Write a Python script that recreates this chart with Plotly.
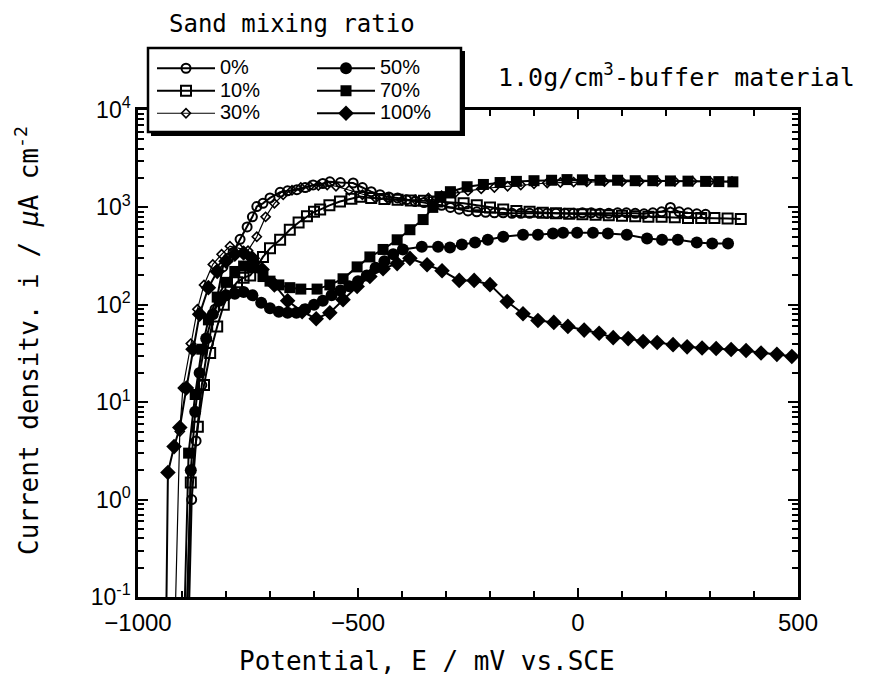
import plotly.graph_objects as go

# ---------------- data ----------------
E_0 = [-885, -878, -868, -855, -840, -825, -807, -795, -784, -768, -752, -740, -730, -716, -700, -677,
       -660, -639, -620, -602, -580, -564, -540, -511, -490, -470, -450, -430, -410, -390, -370, -350,
       -330, -310, -290, -270, -250, -230, -210, -190, -170, -150, -130, -110, -90, -70, -50, -30, -10,
       10, 30, 50, 70, 90, 110, 130, 150, 170, 190, 210, 230, 250, 270, 290]
I_0 = [0.05, 1.0, 4, 15, 40, 90, 245, 300, 345, 470, 630, 800, 1020, 1100, 1250, 1430,
       1480, 1520, 1600, 1700, 1760, 1830, 1800, 1780, 1600, 1450, 1350, 1280, 1250, 1200, 1150, 1120,
       1080, 1050, 1000, 960, 920, 900, 890, 880, 880, 870, 870, 870, 880, 870, 870, 870, 870,
       880, 880, 870, 870, 880, 880, 870, 860, 880, 900, 1000, 900, 880, 860, 850]

E_10 = [-890, -880, -864, -850, -836, -820, -805, -790, -775, -760, -745, -730, -716, -700, -677, -655,
        -635, -616, -600, -586, -565, -541, -515, -495, -470, -440, -410, -380, -350, -320, -290, -260,
        -230, -200, -170, -140, -110, -80, -50, -20, 10, 40, 70, 100, 130, 160, 190, 220, 250, 280, 310,
        340, 370]
I_10 = [0.05, 1.5, 5.6, 15, 32, 60, 100, 140, 170, 190, 200, 245, 310, 380, 465, 590,
        700, 810, 900, 950, 1050, 1150, 1230, 1290, 1250, 1220, 1200, 1180, 1170, 1150, 1120, 1100,
        1050, 1000, 950, 920, 900, 880, 870, 860, 850, 840, 830, 820, 810, 800, 800, 790, 780, 780, 780,
        770, 760]

E_30 = [-916, -905, -898, -880, -865, -850, -830, -810, -791, -770, -750, -730, -710, -690, -670, -650,
        -630, -610, -590, -570, -550, -520, -490, -460, -430, -400, -370, -340, -310, -280, -250, -220,
        -190, -160, -130, -100, -70, -40, -10, 20, 60, 100, 140, 180, 220, 260, 300, 350]
I_30 = [0.05, 5, 14, 40, 90, 160, 260, 330, 400, 380, 360, 500, 800, 1100, 1350, 1500,
        1600, 1650, 1680, 1700, 1650, 1500, 1350, 1250, 1200, 1180, 1200, 1250, 1320, 1400, 1480, 1550,
        1600, 1650, 1700, 1750, 1780, 1800, 1820, 1830, 1840, 1840, 1850, 1850, 1850, 1860, 1850, 1850]

E_50 = [-889, -880, -870, -860, -845, -830, -815, -800, -780, -760, -740, -720, -700, -680, -660, -640,
        -620, -600, -580, -560, -540, -520, -500, -480, -460, -440, -420, -398, -355, -318, -291, -264,
        -234, -205, -170, -125, -91, -57, -34, -2, 34, 68, 111, 157, 191, 227, 270, 305, 341]
I_50 = [0.05, 2, 8, 20, 45, 80, 110, 125, 130, 135, 125, 105, 92, 85, 83, 83,
        90, 100, 110, 125, 140, 155, 175, 200, 240, 280, 330, 370, 395, 395, 388, 415,
        436, 466, 500, 525, 525, 540, 550, 550, 550, 540, 525, 480, 466, 466, 436, 426, 426]

E_70 = [-895, -885, -870, -855, -840, -820, -800, -780, -760, -740, -716, -700, -680, -655, -630, -593,
        -564, -534, -502, -473, -443, -411, -382, -352, -330, -314, -290, -252, -215, -177, -140, -100,
        -60, -25, 10, 50, 90, 130, 170, 210, 250, 290, 320, 352]
I_70 = [0.05, 3, 12, 35, 70, 120, 170, 220, 250, 240, 195, 175, 160, 150, 145, 145,
        160, 185, 245, 310, 370, 465, 590, 750, 1000, 1290, 1450, 1630, 1720, 1800, 1850, 1880,
        1900, 1930, 1920, 1900, 1900, 1880, 1880, 1870, 1860, 1850, 1840, 1830]

E_100 = [-936, -932, -918, -905, -890, -875, -860, -840, -820, -800, -780, -760, -740, -718, -690, -660,
         -627, -595, -564, -534, -502, -473, -443, -411, -382, -343, -309, -270, -236, -200, -161, -125,
         -91, -55, -23, 14, 48, 80, 114, 148, 180, 216, 248, 282, 314, 348, 382, 416, 452, 486]
I_100 = [0.05, 1.9, 3.5, 5.5, 14, 35, 80, 150, 220, 280, 330, 340, 300, 230, 160, 110,
         85, 72, 83, 113, 154, 195, 235, 265, 300, 258, 224, 178, 178, 161, 108, 81,
         69, 66, 60, 55, 51, 46, 45, 42, 41, 39, 37, 36, 35.6, 34.7, 34, 32, 31, 29.5]

labels = ["0%", "10%", "30%", "50%", "70%", "100%"]
y_tick_vals = [0.1, 1, 10, 100, 1000, 10000]
y_tick_text = ["10<sup>-1</sup>", "10<sup>0</sup>", "10<sup>1</sup>", "10<sup>2</sup>",
               "10<sup>3</sup>", "10<sup>4</sup>"]

# ---------------- layout helpers ----------------
W, H = 873, 686
L, R, T, B = 138, 798, 110, 597


def px(x):
    return (x - L) / (R - L)


def py(y):
    return (B - y) / (B - T)


styles = {
    "0%": dict(symbol="circle-open", size=9, lw=2, mlw=2, legend="legend"),
    "10%": dict(symbol="square-open", size=10, lw=2, mlw=2, legend="legend"),
    "30%": dict(symbol="diamond-open", size=7, lw=1.2, mlw=1.6, legend="legend"),
    "50%": dict(symbol="circle", size=12, lw=2, mlw=0, legend="legend2"),
    "70%": dict(symbol="square", size=11, lw=2, mlw=0, legend="legend2"),
    "100%": dict(symbol="diamond", size=12, lw=2, mlw=0, legend="legend2"),
}
data = {"0%": (E_0, I_0), "10%": (E_10, I_10), "30%": (E_30, I_30),
        "50%": (E_50, I_50), "70%": (E_70, I_70), "100%": (E_100, I_100)}

sans = "Liberation Sans, Arial, sans-serif"
mono = "DejaVu Sans Mono, Liberation Mono, monospace"

fig = go.Figure()
for name in labels:
    st = styles[name]
    xs, ys = data[name]
    fig.add_trace(go.Scatter(
        x=xs, y=ys, mode="lines+markers",
        name='<span style="font-size:20px">%s</span>' % name,
        legend=st["legend"],
        line=dict(color="black", width=st["lw"]),
        marker=dict(symbol=st["symbol"], size=st["size"], color="black",
                    line=dict(color="black", width=st["mlw"])),
    ))

fig.update_layout(
    width=W, height=H,
    margin=dict(l=L, r=W - R, t=T, b=H - B, pad=0),
    paper_bgcolor="white", plot_bgcolor="white",
    showlegend=True,
    xaxis=dict(
        range=[-1000, 500], tickmode="linear", tick0=0, dtick=500,
        ticks="inside", ticklen=9, tickwidth=2, tickcolor="black",
        minor=dict(dtick=100, tick0=0, ticks="inside", ticklen=6, tickwidth=1.5, tickcolor="black"),
        showline=True, linewidth=2.5, linecolor="black", mirror="allticks",
        showgrid=False, zeroline=False,
        tickfont=dict(family=sans, size=24, color="black"),
        ticklabelstandoff=2,
    ),
    yaxis=dict(
        type="log", range=[-1, 4], tickmode="array", tickvals=y_tick_vals, ticktext=y_tick_text,
        ticks="inside", ticklen=10, tickwidth=2, tickcolor="black",
        minor=dict(dtick="D1", ticks="inside", ticklen=6, tickwidth=1.5, tickcolor="black"),
        showline=True, linewidth=2.5, linecolor="black", mirror="allticks",
        showgrid=False, zeroline=False,
        tickfont=dict(family=sans, size=23, color="black"),
    ),
    legend=dict(
        x=px(152), y=py(52), xanchor="left", yanchor="top",
        bgcolor="rgba(0,0,0,0)", borderwidth=0, itemwidth=58,
        font=dict(family=sans, size=15, color="black"),
        tracegroupgap=0, itemclick=False,
    ),
    legend2=dict(
        x=px(312), y=py(52), xanchor="left", yanchor="top",
        bgcolor="rgba(0,0,0,0)", borderwidth=0, itemwidth=58,
        font=dict(family=sans, size=15, color="black"),
        tracegroupgap=0, itemclick=False,
    ),
    shapes=[
        # shadow of legend box
        dict(type="rect", xref="paper", yref="paper", layer="above",
             x0=px(151), x1=px(465), y0=py(136), y1=py(51),
             fillcolor="black", line=dict(width=0)),
        dict(type="rect", xref="paper", yref="paper", layer="above",
             x0=px(148), x1=px(461), y0=py(132), y1=py(48),
             fillcolor="white", line=dict(color="black", width=2.5)),
    ],
    annotations=[
        dict(text="Sand mixing ratio", xref="paper", yref="paper", x=px(292), y=py(24),
             xanchor="center", yanchor="middle", showarrow=False,
             font=dict(family=mono, size=24, color="black")),
        dict(text="1.0g/cm<sup>3</sup>-buffer material", xref="paper", yref="paper",
             x=px(676), y=py(76), xanchor="center", yanchor="middle", showarrow=False,
             font=dict(family=mono, size=25, color="black")),
        dict(text="Potential, E / mV vs.SCE", xref="paper", yref="paper", x=px(427), y=py(661),
             xanchor="center", yanchor="middle", showarrow=False,
             font=dict(family=mono, size=26, color="black")),
        dict(text="Current densitv. i / <i>μ</i>A cm<sup>-2</sup>", xref="paper", yref="paper",
             x=px(27), y=py(341), xanchor="center", yanchor="middle", showarrow=False, textangle=-90,
             font=dict(family=mono, size=26, color="black")),
    ],
)

fig.write_html("out.html")
